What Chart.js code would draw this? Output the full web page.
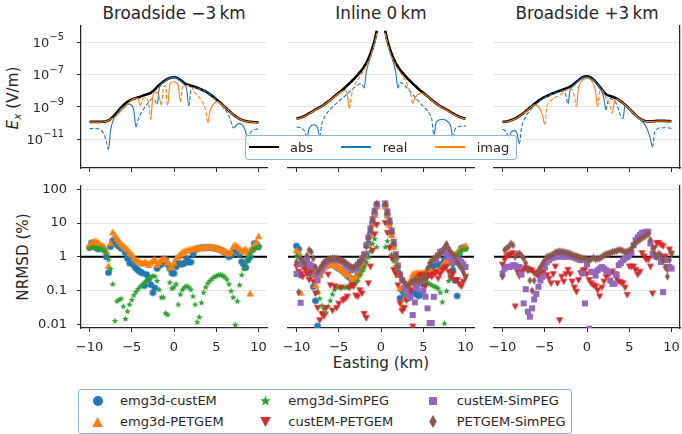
<!DOCTYPE html>
<html>
<head>
<meta charset="utf-8">
<title>EM field and NRMSD</title>
<script src="https://cdn.jsdelivr.net/npm/chart.js@4.4.1/dist/chart.umd.min.js"></script>
<style>
  body { margin: 0; background: #fff; }
  #fig { position: relative; width: 682px; height: 434px; overflow: hidden; font-family: "DejaVu Sans", sans-serif; color: #262626; }
  #fig canvas { position: absolute; }
  .txt { position: absolute; white-space: nowrap; }
  .title { font-size: 16.8px; line-height: 16.8px; transform: translateX(-50%); }
  .axlab { font-size: 15.2px; line-height: 15.2px; }
  .ylab { transform: translate(-50%, -50%) rotate(-90deg); }
  .ylab sub { font-size: 0.7em; vertical-align: baseline; position: relative; top: 0.25em; }
  .legend { position: absolute; z-index: 2; border: 1px solid #8ab6da; border-radius: 3px; background: rgba(255,255,255,0.8); box-sizing: border-box; }
  .legend .lab { position: absolute; font-size: 13px; line-height: 13px; white-space: nowrap; }
  .legend .swatch { position: absolute; }
</style>
</head>
<body>
<div id="fig">
  <div class="txt axlab ylab" style="left:14.4px;top:97.5px"><i>E<sub>x</sub></i> (V/m)</div>
  <div class="txt axlab ylab" style="left:24.4px;top:256.5px">NRMSD (%)</div>
  <div class="txt axlab" style="left:381px;top:356px;transform:translateX(-50%)">Easting (km)</div>
</div>
<script>
// ---- data ---------------------------------------------------------------
const eastingKm = [
  -10, -9.75, -9.5, -9.25, -9, -8.75, -8.5, -8.25,
  -8, -7.75, -7.5, -7.25, -7, -6.75, -6.5, -6.25,
  -6, -5.75, -5.5, -5.25, -5, -4.75, -4.5, -4.25,
  -4, -3.75, -3.5, -3.25, -3, -2.75, -2.5, -2.25,
  -2, -1.75, -1.5, -1.25, -1, -0.75, -0.5, -0.25,
  0, 0.25, 0.5, 0.75, 1, 1.25, 1.5, 1.75,
  2, 2.25, 2.5, 2.75, 3, 3.25, 3.5, 3.75,
  4, 4.25, 4.5, 4.75, 5, 5.25, 5.5, 5.75,
  6, 6.25, 6.5, 6.75, 7, 7.25, 7.5, 7.75,
  8, 8.25, 8.5, 8.75, 9, 9.25, 9.5, 9.75,
  10
];
const eastingTicks = [-10, -5, 0, 5, 10];
const eastingTickLabels = ['\u221210', '\u22125', '0', '5', '10'];
const fieldTicks = [1e-11, 1e-9, 1e-7, 1e-5];
const fieldTickExponents = ['\u221211', '\u22129', '\u22127', '\u22125'];
const nrmsdTicks = [0.01, 0.1, 1, 10, 100];
const nrmsdTickLabels = ['0.01', '0.1', '1', '10', '100'];
const nrmsdReference = 1;

const panelTitles = ['Broadside \u22123\u2009km', 'Inline 0\u2009km', 'Broadside +3\u2009km'];
const fieldNames = ['abs', 'real', 'imag'];
const seriesNames = ['emg3d-custEM', 'emg3d-PETGEM', 'emg3d-SimPEG', 'custEM-PETGEM', 'custEM-SimPEG', 'PETGEM-SimPEG'];

// E_x (V/m), broadside -3 km
const bsMinusAbs = [
  1.15e-10, 1.15e-10, 1.15e-10, 1.15e-10, 1.15e-10, 1.15e-10, 1.17e-10, 1.2e-10,
  1.26e-10, 1.41e-10, 1.78e-10, 2.24e-10, 3.16e-10, 4.47e-10, 6.31e-10, 8.91e-10,
  1.2e-9, 1.58e-9, 2.0e-9, 2.4e-9, 2.75e-9, 3.16e-9, 3.47e-9, 3.8e-9,
  4.17e-9, 4.68e-9, 5.25e-9, 5.75e-9, 6.31e-9, 7.24e-9, 8.91e-9, 1.2e-8,
  1.66e-8, 2.24e-8, 2.82e-8, 3.55e-8, 4.37e-8, 5.25e-8, 6.03e-8, 6.46e-8,
  6.61e-8, 6.31e-8, 5.5e-8, 4.47e-8, 3.55e-8, 2.82e-8, 2.4e-8, 2.19e-8,
  2.0e-8, 1.82e-8, 1.66e-8, 1.48e-8, 1.32e-8, 1.15e-8, 1.0e-8, 8.51e-9,
  7.08e-9, 5.75e-9, 4.68e-9, 3.72e-9, 2.88e-9, 2.24e-9, 1.7e-9, 1.29e-9,
  9.77e-10, 7.41e-10, 5.62e-10, 4.27e-10, 3.31e-10, 2.63e-10, 2.14e-10, 1.78e-10,
  1.55e-10, 1.38e-10, 1.29e-10, 1.2e-10, 1.15e-10, 1.12e-10, 1.1e-10, 1.07e-10,
  1.05e-10
];
const bsMinusReal = [
  -4.3e-11, -4.4e-11, -4.5e-11, -4.5e-11, -4.3e-11, -3.8e-11, -3.0e-11, -1.8e-11,
  -7e-12, -2.2e-12, 3.5e-11, 1.2e-10, 2.4e-10, 3.6e-10, 5.2e-10, 7.2e-10,
  9.5e-10, 1.2e-9, 1.4e-9, 1.45e-9, 1.2e-9, 6e-10, 5.6e-11, -1.6e-10,
  -3.2e-10, -5.5e-10, -8.5e-10, -1.3e-9, -1.9e-9, -2.7e-9, -3.2e-9, -2.5e-9,
  -1.4e-9, 1.3e-8, 2.4e-8, 3.2e-8, 4.1e-8, 5.0e-8, 5.8e-8, 6.3e-8,
  6.5e-8, 6.1e-8, 5.2e-8, 4.1e-8, 3.1e-8, 2.2e-8, 1.2e-8, 1.1e-9,
  -1.1e-8, -1.5e-8, -1.55e-8, -1.42e-8, -1.28e-8, -1.12e-8, -9.8e-9, -8.4e-9,
  -7.0e-9, -5.6e-9, -4.5e-9, -3.5e-9, -2.6e-9, -1.95e-9, -1.4e-9, -1.0e-9,
  -7e-10, -4.6e-10, -2.7e-10, -1.2e-10, -4.8e-11, 6e-11, 8.5e-11, 9e-11,
  8e-11, 5.5e-11, 2.5e-11, 4e-12, -2.2e-11, -3.2e-11, -3.8e-11, -4.1e-11,
  -4.3e-11
];
const bsMinusImag = [
  1.12e-10, 1.12e-10, 1.12e-10, 1.12e-10, 1.12e-10, 1.12e-10, 1.14e-10, 1.18e-10,
  1.24e-10, 1.41e-10, 1.74e-10, 1.9e-10, 2.2e-10, 2.9e-10, 4.0e-10, 5.6e-10,
  7.6e-10, 1.0e-9, 1.5e-9, 2.0e-9, 2.45e-9, 3.1e-9, 3.45e-9, 3.2e-9,
  1.2e-9, -2.8e-9, -3.6e-9, -3.2e-9, -1.8e-9, -1.6e-10, 4.5e-9, 7.5e-9,
  8e-9, 4e-9, 1.3e-9, -1.5e-8, -2e-8, -1.2e-9, 2.2e-8, 3.3e-8,
  3.5e-8, 3.2e-8, 2.2e-8, 2e-9, -1.6e-8, -1.8e-8, -2.0e-8, -2.1e-8,
  -1.7e-8, -1.2e-8, -7.5e-9, -5.2e-9, -3.6e-9, -2.4e-9, -1.4e-9, -6e-10,
  -1e-10, 5e-10, 1.1e-9, 1.6e-9, 2.0e-9, 1.95e-9, 1.6e-9, 1.25e-9,
  9.5e-10, 7.3e-10, 5.5e-10, 4.1e-10, 3.3e-10, 2.55e-10, 2.1e-10, 1.75e-10,
  1.52e-10, 1.35e-10, 1.25e-10, 1.2e-10, 1.12e-10, 1.08e-10, 1.05e-10, 1.02e-10,
  1.0e-10
];

// E_x (V/m), inline 0 km (no values at the source)
const inlineAbs = [
  1.86e-10, 1.95e-10, 2.14e-10, 2.4e-10, 2.75e-10, 3.24e-10, 3.8e-10, 4.57e-10,
  5.5e-10, 6.61e-10, 7.76e-10, 9.12e-10, 1.07e-9, 1.32e-9, 1.66e-9, 2.09e-9,
  2.63e-9, 3.39e-9, 4.37e-9, 5.62e-9, 7.24e-9, 9.12e-9, 1.17e-8, 1.55e-8,
  2.04e-8, 2.69e-8, 3.63e-8, 4.9e-8, 6.76e-8, 9.33e-8, 1.32e-7, 1.95e-7,
  3.02e-7, 5.01e-7, 9.33e-7, 1.91e-6, 4.47e-6, 1.26e-5, 5.01e-5, null,
  null, null, 5.01e-5, 1.26e-5, 4.47e-6, 1.91e-6, 9.33e-7, 5.01e-7,
  3.02e-7, 1.95e-7, 1.32e-7, 9.33e-8, 6.76e-8, 4.9e-8, 3.63e-8, 2.69e-8,
  2.04e-8, 1.55e-8, 1.17e-8, 9.12e-9, 7.24e-9, 5.62e-9, 4.37e-9, 3.39e-9,
  2.63e-9, 2.09e-9, 1.66e-9, 1.32e-9, 1.07e-9, 9.12e-10, 7.76e-10, 6.61e-10,
  5.5e-10, 4.57e-10, 3.8e-10, 3.24e-10, 2.75e-10, 2.4e-10, 2.14e-10, 1.95e-10,
  1.86e-10
];
const inlineReal = [
  -5.6e-11, -5.3e-11, -5.0e-11, -4.2e-11, -2.8e-11, -1.3e-11, 4.5e-11, 6.6e-11,
  7.6e-11, 7.1e-11, 5.0e-11, 1.4e-11, -8.9e-11, -1.9e-10, -3.3e-10, -5.0e-10,
  -7.1e-10, -9.5e-10, -1.26e-9, -1.66e-9, -2.2e-9, -2.8e-9, -3.6e-9, -4.7e-9,
  -6.0e-9, -7.9e-9, -1.07e-8, -1.41e-8, -1.78e-8, -2.2e-8, -2.6e-8, -2.5e-8,
  1.4e-8, 1.26e-7, 4.5e-7, 1.12e-6, 3.0e-6, 8.7e-6, 3.55e-5, null,
  null, null, 3.55e-5, 8.7e-6, 3.0e-6, 1.17e-6, 4.5e-7, 1.26e-7,
  1.4e-8, -3.2e-8, -2.8e-8, -2.2e-8, -1.6e-8, -1.12e-8, -7.9e-9, -5.6e-9,
  -4.0e-9, -2.8e-9, -2.0e-9, -1.4e-9, -1.05e-9, -7.9e-10, -5.6e-10, -3.5e-10,
  -1.8e-10, -1.6e-11, 1.0e-10, 1.4e-10, 1.6e-10, 1.66e-10, 1.6e-10, 1.35e-10,
  1.05e-10, 6.3e-11, 1.26e-11, -4.0e-11, -5.2e-11, -6.0e-11, -6.3e-11, -6.3e-11,
  -6.3e-11
];
const inlineImag = [
  1.77e-10, 1.85e-10, 2.03e-10, 2.28e-10, 2.6e-10, 3.08e-10, 3.6e-10, 4.34e-10,
  5.2e-10, 6.3e-10, 7.4e-10, 8.7e-10, 1.02e-9, 1.25e-9, 1.58e-9, 1.99e-9,
  2.5e-9, 3.2e-9, 4.1e-9, 5.2e-9, 6.6e-9, 8.0e-9, 9.5e-9, 1.05e-8,
  6.3e-9, 7.9e-10, -5.0e-9, -1.41e-8, -2.8e-8, -4.5e-8, -7.1e-8, -1.12e-7,
  -2.0e-7, -3.4e-7, -6.3e-7, -1.26e-6, -3.0e-6, -8.9e-6, -3.55e-5, null,
  null, null, -3.55e-5, -8.9e-6, -3.0e-6, -1.26e-6, -6.3e-7, -3.5e-7,
  -2.1e-7, -1.35e-7, -8.9e-8, -5.6e-8, -3.2e-8, -1.58e-8, -6.3e-9, -1.6e-9,
  3.5e-9, 5.0e-9, 6.3e-9, 7.1e-9, 6.8e-9, 5.5e-9, 4.3e-9, 3.3e-9,
  2.55e-9, 2.0e-9, 1.6e-9, 1.27e-9, 1.03e-9, 8.7e-10, 7.4e-10, 6.3e-10,
  5.2e-10, 4.4e-10, 3.6e-10, 3.1e-10, 2.6e-10, 2.3e-10, 2.05e-10, 1.86e-10,
  1.78e-10
];

// E_x (V/m), broadside +3 km
const bsPlusAbs = [
  1.15e-10, 1.17e-10, 1.23e-10, 1.32e-10, 1.45e-10, 1.62e-10, 1.86e-10, 2.19e-10,
  2.63e-10, 3.24e-10, 4.07e-10, 5.25e-10, 6.76e-10, 8.71e-10, 1.12e-9, 1.45e-9,
  1.82e-9, 2.29e-9, 2.82e-9, 3.39e-9, 3.98e-9, 4.57e-9, 5.25e-9, 6.03e-9,
  6.76e-9, 7.59e-9, 8.51e-9, 9.55e-9, 1.07e-8, 1.2e-8, 1.35e-8, 1.51e-8,
  1.74e-8, 2.09e-8, 2.63e-8, 3.39e-8, 4.37e-8, 5.5e-8, 6.61e-8, 7.41e-8,
  7.59e-8, 7.08e-8, 6.03e-8, 4.79e-8, 3.55e-8, 2.51e-8, 1.74e-8, 1.17e-8,
  7.94e-9, 5.89e-9, 5.01e-9, 4.57e-9, 4.17e-9, 3.72e-9, 3.16e-9, 2.63e-9,
  2.14e-9, 1.7e-9, 1.32e-9, 1.0e-9, 7.41e-10, 5.5e-10, 4.07e-10, 3.02e-10,
  2.34e-10, 1.86e-10, 1.55e-10, 1.35e-10, 1.26e-10, 1.23e-10, 1.23e-10, 1.26e-10,
  1.29e-10, 1.32e-10, 1.32e-10, 1.32e-10, 1.32e-10, 1.32e-10, 1.29e-10, 1.29e-10,
  1.26e-10
];
const bsPlusReal = [
  -4.0e-11, -3.5e-11, -2.5e-11, -1.0e-11, 2.5e-11, 3.2e-11, 3.2e-11, 2.0e-11,
  5.0e-12, -5.0e-11, -1.26e-10, -2.5e-10, -4.0e-10, -5.6e-10, -7.9e-10, -1.07e-9,
  -1.41e-9, -1.86e-9, -2.4e-9, -2.95e-9, -3.55e-9, -4.2e-9, -4.9e-9, -5.6e-9,
  -6.3e-9, -7.1e-9, -7.9e-9, -8.7e-9, -9.5e-9, -8.9e-9, -5.0e-9, -1.45e-9,
  1.12e-8, 1.66e-8, 2.24e-8, 3.0e-8, 4.0e-8, 5.0e-8, 6.0e-8, 6.8e-8,
  6.8e-8, 6.3e-8, 5.5e-8, 4.5e-8, 3.3e-8, 2.3e-8, 1.58e-8, 8.9e-9,
  3.2e-9, 6.3e-10, -2.5e-9, -3.2e-9, -2.8e-9, -2.2e-9, -1.4e-9, -6.3e-10,
  -2.5e-10, -1.8e-10, 1.12e-9, 8.9e-10, 6.8e-10, 5.1e-10, 3.9e-10, 2.9e-10,
  2.2e-10, 1.66e-10, 1.26e-10, 8.9e-11, 5.6e-11, 2.8e-11, 1.0e-11, 3.2e-12,
  -2.5e-11, -4.0e-11, -4.8e-11, -5.0e-11, -5.0e-11, -5.0e-11, -5.0e-11, -4.8e-11,
  -4.5e-11
];
const bsPlusImag = [
  1.1e-10, 1.12e-10, 1.17e-10, 1.26e-10, 1.38e-10, 1.55e-10, 1.78e-10, 2.1e-10,
  2.5e-10, 3.1e-10, 3.9e-10, 4.9e-10, 6.2e-10, 7.8e-10, 1.07e-9, 1.26e-9,
  1.26e-9, 1.0e-9, 6.3e-10, 2.8e-10, 7.9e-11, -1.0e-9, -1.78e-9, -2.5e-9,
  -3.2e-9, -3.8e-9, -4.5e-9, -5.0e-9, -6.3e-9, -7.9e-9, -1.0e-8, -1.2e-8,
  -1.35e-8, -1.0e-8, -4.5e-9, -1.0e-9, 1.58e-8, 3.2e-8, 4.5e-8, 5.4e-8,
  5.6e-8, 5.2e-8, 4.2e-8, 2.5e-8, 1.0e-8, 1.0e-9, -8e-9, -1.05e-8,
  -7.0e-9, -3.5e-9, -2.0e-9, -1.1e-9, -4e-10, 2.5e-9, 3.0e-9, 2.6e-9,
  2.1e-9, 1.66e-9, 1.29e-9, 9.8e-10, 7.3e-10, 5.4e-10, 4.0e-10, 2.95e-10,
  2.3e-10, 1.83e-10, 1.52e-10, 1.32e-10, 1.23e-10, 1.2e-10, 1.2e-10, 1.23e-10,
  1.26e-10, 1.29e-10, 1.29e-10, 1.29e-10, 1.29e-10, 1.29e-10, 1.26e-10, 1.26e-10,
  1.23e-10
];

// NRMSD (%), broadside -3 km
const bsMinusEmg3dCustem = [
  1.9, 2.6, 2.2, 1.9, 1.7, 1.8, 1.9, 1.6,
  1.0, 0.34, 2.0, 3.0, 2.6, 2.3, 2.0, 1.8,
  1.7, 1.3, 0.9, 0.65, 0.75, 0.55, 0.45, 0.4,
  0.36, 0.33, 0.14, 0.3, 0.22, 0.15, 0.086, 0.12,
  0.45, 0.55, 0.6, 0.75, 0.85, 0.6, 0.45, 0.33,
  0.32, 0.5, 0.65, 0.6, 0.62, 0.65, 0.9, 0.7,
  0.7, 1.2, 1.6, 1.75, 1.8, 1.85, 1.85, 1.85,
  1.9, 1.9, 1.85, 1.8, 1.75, 1.7, 1.6, 1.5,
  1.35, 1.2, 1.0, 1.1, 1.3, 1.5, 1.6, 1.2,
  0.72, 0.6, 0.48, 0.8, 1.0, 1.6, 2.5, 2.4,
  2.0
];
const bsMinusEmg3dPetgem = [
  2.3, 2.6, 2.9, 3.0, 2.7, 2.4, 2.2, 2.0,
  1.5, 0.55, 2.6, 5.5, 4.5, 3.6, 3.0, 2.5,
  2.2, 1.9, 1.7, 1.4, 1.2, 0.95, 0.85, 0.75,
  0.7, 0.65, 0.72, 0.7, 0.6, 0.7, 0.78, 0.85,
  0.6, 0.72, 0.85, 0.92, 0.85, 0.7, 0.5, 0.55,
  0.7, 0.95, 1.05, 1.25, 1.4, 1.5, 1.6, 1.65,
  1.7, 1.75, 1.8, 1.85, 1.9, 1.95, 1.95, 2.0,
  2.0, 2.0, 2.0, 1.95, 1.9, 1.8, 1.7, 1.6,
  1.5, 1.4, 1.3, 1.5, 2.1, 2.3, 2.1, 1.8,
  1.5, 1.65, 1.7, 1.4, 0.085, 1.8, 2.4, 2.8,
  4.2
];
const bsMinusEmg3dSimpeg = [
  1.8, 1.9, 2.0, 1.9, 1.8, 1.85, 1.8, 1.6,
  1.3, 0.85, 0.45, 0.16, 0.013, 0.05, 0.055, 0.06,
  0.035, 0.015, 0.025, 0.04, 0.055, 0.075, 0.095, 0.115,
  0.135, 0.155, 0.18, 0.2, 0.23, 0.26, 0.28, 0.27,
  0.2, 0.11, 0.065, 0.065, 0.022, 0.02, 0.18, 0.12,
  0.13, 0.16, 0.04, 0.08, 0.11, 0.13, 0.14, 0.13,
  0.11, 0.07, 0.04, 0.012, 0.017, 0.045, 0.09, 0.13,
  0.17, 0.2, 0.23, 0.26, 0.28, 0.3, 0.3, 0.29,
  0.26, 0.22, 0.16, 0.1, 0.065, 0.01, 0.05, 0.15,
  0.3, 0.45, 0.7, 1.0, 1.3, 1.6, 1.8, 1.9,
  1.9
];

// NRMSD (%), inline 0 km
const inlineEmg3dCustem = [
  2.1, 1.7, 0.29, 0.6, 0.5, 0.45, 0.4, 0.3,
  0.13, 0.05, 0.009, 0.3, 0.4, 0.5, 0.55, 0.6,
  0.62, 0.6, 0.55, 0.5, 0.45, 0.42, 0.38, 0.33,
  0.28, 0.25, 0.22, 0.2, 0.22, 0.28, 0.38, 0.5,
  0.7, 1.2, 2.5, 5, 10, 19, 33, null,
  null, null, 33, 18, 10, 5, 2.2, 0.9,
  0.35, 0.06, 0.1, 0.08, 0.07, 0.06, 0.08, 0.09,
  0.085, 0.075, 0.07, 0.08, 0.15, 0.25, 0.35, 0.45,
  0.5, 0.55, 0.6, 0.6, 0.6, 0.6, 0.8, 1.0,
  0.9, 0.7, 0.4, 0.2, 0.07, 1.2, 1.8, 1.9,
  1.8
];
const inlineEmg3dPetgem = [
  1.6, 1.4, 0.09, 0.7, 0.6, 0.55, 0.5, 0.4,
  0.3, 0.15, 0.1, 0.3, 0.4, 0.5, 0.55, 0.6,
  0.62, 0.6, 0.58, 0.55, 0.5, 0.45, 0.4, 0.35,
  0.32, 0.3, 0.25, 0.22, 0.25, 0.3, 0.35, 0.45,
  0.65, 1.1, 2.3, 4.5, 9.5, 18, 32, null,
  null, null, 32, 17, 9, 4.5, 2.0, 0.8,
  0.3, 0.12, 0.033, 0.06, 0.1, 0.15, 0.22, 0.32,
  0.33, 0.34, 0.34, 0.34, 0.35, 0.36, 0.38, 0.4,
  0.38, 0.36, 0.37, 0.4, 0.45, 0.55, 0.7, 0.8,
  0.85, 0.9, 1.0, 1.2, 1.4, 1.6, 1.8, 2.0,
  2.2
];
const inlineEmg3dSimpeg = [
  1.1, 1.0, 0.85, 0.7, 0.65, 0.55, 0.5, 0.45,
  0.4, 0.2, 0.09, 0.06, 0.037, 0.03, 0.023, 0.035,
  0.052, 0.08, 0.11, 0.13, 0.13, 0.13, 0.13, 0.13,
  0.13, 0.13, 0.14, 0.15, 0.17, 0.2, 0.3, 0.4,
  0.5, 0.7, 1.0, 1.5, 2.5, 3.5, 2.0, null,
  null, null, 2.0, 3.0, 2.0, 1.2, 0.8, 0.55,
  0.4, 0.3, 0.22, 0.18, 0.14, 0.15, 0.17, 0.19,
  0.2, 0.21, 0.22, 0.22, 0.21, 0.2, 0.18, 0.16,
  0.15, 0.14, 0.13, 0.12, 0.09, 0.047, 0.011, 0.1,
  0.2, 0.3, 0.55, 1.0, 1.2, 1.4, 1.6, 1.7,
  1.8
];
const inlineCustemPetgem = [
  0.5, 0.35, 0.3, 0.25, 0.4, 0.3, 0.2, 0.35,
  0.18, 0.08, 0.03, 0.013, 0.02, 0.017, 0.03, 0.29,
  0.14, 0.025, 0.13, 0.03, 0.04, 0.12, 0.05, 0.055,
  0.065, 0.12, 0.14, 0.13, 0.07, 0.065, 0.1, 0.08,
  0.02, 0.015, 0.16, 0.5, 1.5, 4.5, 8.6, null,
  null, null, 9.7, 5, 1.8, 0.9, 0.4, 0.3,
  0.14, 0.04, 0.024, 0.03, 0.05, 0.07, 0.1, 0.0085,
  0.13, 0.18, 0.25, 0.29, 0.22, 0.13, 0.25, 0.28,
  0.25, 0.3, 0.35, 0.22, 0.3, 0.4, 0.45, 0.5,
  0.35, 0.23, 0.3, 0.2, 0.2, 0.15, 0.13, 0.18,
  0.25
];
const inlineCustemSimpeg = [
  0.31, 0.6, 0.044, 0.65, 0.75, 0.85, 0.6, 0.55,
  0.5, 0.3, 0.2, 0.35, 0.45, 0.6, 0.7, 0.78,
  0.82, 0.85, 0.85, 0.82, 0.8, 0.75, 0.7, 0.62,
  0.55, 0.48, 0.4, 0.42, 0.5, 0.6, 0.72, 0.9,
  1.2, 2.2, 3.8, 7, 13, 23, 36, null,
  null, null, 38, 22, 12, 6, 2.8, 1.2,
  0.55, 0.3, 0.2, 0.12, 0.1, 0.066, 0.066, 0.019,
  0.045, 0.12, 0.18, 0.2, 0.1, 0.066, 0.03, 0.011,
  0.011, 0.066, 0.8, 1.1, 1.4, 1.5, 1.6, 1.3,
  1.0, 0.9, 0.7, 0.7, 0.7, 0.8, 0.7, 0.6,
  0.5
];
const inlinePetgemSimpeg = [
  0.7, 0.09, 0.9, 0.75, 0.6, 1.1, 1.6, 1.4,
  0.9, 0.5, 0.35, 0.45, 0.55, 0.68, 0.75, 0.82,
  0.86, 0.9, 0.9, 0.88, 0.85, 0.8, 0.75, 0.68,
  0.6, 0.55, 0.5, 0.48, 0.52, 0.6, 0.7, 0.85,
  1.1, 2.0, 3.5, 6.5, 12, 22, 38, null,
  null, null, 36, 20, 11, 5.5, 2.5, 1.1,
  0.5, 0.3, 0.22, 0.18, 0.15, 0.14, 0.17, 0.2,
  0.22, 0.2, 0.19, 0.2, 0.24, 0.3, 0.45, 0.65,
  0.8, 0.9, 1.0, 1.1, 1.2, 1.4, 1.9, 2.4,
  1.8, 1.4, 1.2, 1.0, 0.7, 0.55, 0.45, 0.35,
  0.25
];

// NRMSD (%), broadside +3 km
const bsPlusCustemPetgem = [
  0.57, 0.8, 1.0, 1.1, 1.15, 1.25, 0.033, 0.36,
  0.26, 0.36, 0.4, 0.45, 0.42, 0.4, 0.38, 0.32,
  0.3, 0.26, 0.3, 0.36, 0.4, 0.28, 0.22, 0.16,
  0.3, 0.5, 0.16, 0.013, 0.25, 0.18, 0.3, 0.4,
  0.3, 0.18, 0.12, 0.09, 0.2, 0.32, 0.38, 0.4,
  0.3, 0.2, 0.16, 0.14, 0.13, 0.1, 0.066, 0.12,
  0.18, 0.25, 0.29, 0.32, 0.36, 0.3, 0.22, 0.18,
  0.17, 0.16, 0.12, 0.073, 0.5, 0.5, 0.5, 0.4,
  0.29, 0.35, 1.25, 1.0, 0.8, 0.8, 0.5, 0.08,
  1.8, 2.5, 2.5, 2.2, 2.0, 1.0, 0.4, 1.6,
  1.2
];
const bsPlusCustemSimpeg = [
  0.32, 0.45, 0.5, 0.5, 0.52, 0.57, 0.55, 0.5,
  0.5, 0.3, 0.042, 0.11, 0.024, 0.017, 0.03, 0.055,
  0.08, 0.13, 0.2, 0.26, 0.5, 0.7, 0.8, 0.9,
  0.95, 1.0, 1.0, 1.05, 1.05, 1.0, 1.0, 1.1,
  1.05, 1.0, 0.95, 0.9, 0.85, 0.8, 0.32, 0.042,
  0.6, 0.0075, 0.36, 0.36, 0.28, 0.4, 0.45, 0.5,
  0.45, 0.4, 0.36, 0.2, 0.16, 0.16, 0.3, 0.57,
  0.65, 0.8, 0.9, 1.0, 1.1, 1.3, 2.2, 3.1,
  3.8, 4.5, 5.1, 5.3, 5.5, 5.5, 2.5, 1.25,
  1.1, 1.0, 1.0, 0.7, 0.09, 0.8, 0.5, 0.5,
  0.45
];
const bsPlusPetgemSimpeg = [
  0.26, 1.6, 1.8, 2.0, 2.5, 2.2, 1.0, 1.2,
  1.25, 1.1, 0.9, 0.65, 0.4, 0.2, 0.1, 0.2,
  0.32, 0.4, 0.5, 0.63, 0.8, 1.0, 1.05, 1.1,
  1.2, 1.35, 1.4, 1.45, 1.45, 1.4, 1.35, 1.3,
  1.25, 1.15, 1.1, 1.05, 1.0, 0.95, 0.9, 0.88,
  0.85, 0.8, 0.85, 0.95, 0.85, 0.88, 0.9, 1.0,
  1.1, 1.2, 1.25, 1.3, 1.4, 1.45, 1.5, 1.6,
  1.6, 1.5, 1.4, 1.45, 1.55, 1.7, 2.2, 2.6,
  2.9, 3.2, 3.6, 3.9, 4.3, 4.7, 3.2, 1.8,
  1.2, 1.0, 1.25, 1.1, 0.8, 0.5, 0.26, 0.8,
  1.25
];

// ---- styling / layout ---------------------------------------------------
const INK = '#262626';
const GRID = '#e5e5e5';
const FIELD_COLORS = ['#000000', '#1f77b4', '#ff7f0e'];
const SERIES_STYLE = [
  { color: '#1f77b4', shape: 'circle', w: 6.6, h: 6.6, lw: 10, lh: 10 },
  { color: '#ff7f0e', shape: 'triangleUp', w: 7.4, h: 7, lw: 10.5, lh: 10 },
  { color: '#2ca02c', shape: 'star', w: 7, h: 7, lw: 11, lh: 11 },
  { color: '#d62728', shape: 'triangleDown', w: 7, h: 6.6, lw: 10.5, lh: 10 },
  { color: '#9467bd', shape: 'square', w: 6, h: 6, lw: 8, lh: 8 },
  { color: '#8c564b', shape: 'thinDiamond', w: 5, h: 8, lw: 7.5, lh: 13 }
];

const X_MIN = -11, X_MAX = 11;
const FIELD_MIN = 1.62e-13, FIELD_MAX = 9.77e-5;
const NRMSD_MIN = 0.00785, NRMSD_MAX = 124.5;

const PLOT_LEFT = [81, 288, 494];
const ROW_TOP = [26, 186];
const PLOT_W = 186, PLOT_H = 142, PAD_TOP = 8;
const Y_AXIS_W = [70, 12, 12];
const X_AXIS_H = [12, 40];

const fig = document.getElementById('fig');

[eastingKm, bsMinusAbs, bsMinusReal, bsMinusImag, inlineAbs, inlineReal, inlineImag,
 bsPlusAbs, bsPlusReal, bsPlusImag, bsMinusEmg3dCustem, bsMinusEmg3dPetgem, bsMinusEmg3dSimpeg,
 inlineEmg3dCustem, inlineEmg3dPetgem, inlineEmg3dSimpeg, inlineCustemPetgem, inlineCustemSimpeg,
 inlinePetgemSimpeg, bsPlusCustemPetgem, bsPlusCustemSimpeg, bsPlusPetgemSimpeg
].forEach((a, i) => { if (a.length !== 81) console.error('array ' + i + ' has ' + a.length); });

Chart.defaults.font.family = '"DejaVu Sans", sans-serif';
Chart.defaults.font.size = 13;
Chart.defaults.color = INK;

function markerImage(shape, color, w, h) {
  const c = document.createElement('canvas');
  c.width = Math.ceil(w) + 2;
  c.height = Math.ceil(h) + 2;
  const g = c.getContext('2d');
  const cx = c.width / 2, cy = c.height / 2, rx = w / 2, ry = h / 2;
  g.fillStyle = color;
  g.beginPath();
  if (shape === 'circle') {
    g.ellipse(cx, cy, rx, ry, 0, 0, Math.PI * 2);
  } else if (shape === 'triangleUp') {
    g.moveTo(cx, cy - ry); g.lineTo(cx + rx, cy + ry); g.lineTo(cx - rx, cy + ry);
  } else if (shape === 'triangleDown') {
    g.moveTo(cx, cy + ry); g.lineTo(cx + rx, cy - ry); g.lineTo(cx - rx, cy - ry);
  } else if (shape === 'square') {
    g.rect(cx - rx, cy - ry, w, h);
  } else if (shape === 'thinDiamond') {
    g.moveTo(cx, cy - ry); g.lineTo(cx + rx, cy); g.lineTo(cx, cy + ry); g.lineTo(cx - rx, cy);
  } else if (shape === 'star') {
    for (let k = 0; k < 10; k++) {
      const r = k % 2 ? rx * 0.42 : rx;
      const a = -Math.PI / 2 + k * Math.PI / 5;
      const px = cx + r * Math.cos(a), py = cy + 0.5 + r * Math.sin(a);
      if (k === 0) g.moveTo(px, py); else g.lineTo(px, py);
    }
  }
  g.closePath();
  g.fill();
  return c;
}

const plotMarkers = SERIES_STYLE.map(s => markerImage(s.shape, s.color, s.w, s.h));

function toPoints(values) {
  return eastingKm.map((x, i) => ({ x, y: values[i] === null ? null : Math.abs(values[i]) }));
}

// dashed where the component is negative
function dashWhenNegative(values) {
  return ctx => (values[ctx.p0DataIndex] + values[ctx.p1DataIndex] < 0 ? [4, 2] : undefined);
}

function fieldSets(absV, realV, imagV) {
  return [absV, realV, imagV].map((v, k) => ({
    label: fieldNames[k],
    data: toPoints(v),
    yAxisID: 'y',
    borderColor: FIELD_COLORS[k],
    borderWidth: k === 0 ? 2.6 : 1.1,
    borderJoinStyle: 'round',
    pointRadius: 0,
    cubicInterpolationMode: 'monotone',
    order: 3 - k,
    segment: k === 0 ? {} : { borderDash: dashWhenNegative(v) }
  }));
}

function errorSets(list) {
  const sets = list.map(([k, values]) => ({
    label: seriesNames[k],
    data: toPoints(values),
    yAxisID: 'y',
    showLine: false,
    pointStyle: plotMarkers[k],
    pointRadius: 3.5,
    order: 6 - k
  }));
  sets.push({
    label: 'reference',
    data: [{ x: X_MIN, y: nrmsdReference }, { x: X_MAX, y: nrmsdReference }],
    yAxisID: 'y',
    borderColor: '#000',
    borderWidth: 2,
    pointRadius: 0,
    order: 20
  });
  return sets;
}

// "10^-n" tick labels of the field axis
const powerTickLabels = {
  id: 'powerTickLabels',
  afterDraw(chart) {
    const s = chart.scales.y;
    const ctx = chart.ctx;
    ctx.save();
    ctx.fillStyle = INK;
    ctx.textAlign = 'right';
    ctx.textBaseline = 'alphabetic';
    s.ticks.forEach((t, i) => {
      const y = s.getPixelForValue(t.value);
      const right = s.right - 17;
      const exp = fieldTickExponents[i];
      ctx.font = '9.8px "DejaVu Sans"';
      ctx.fillText(exp, right, y - 1.6);
      const ew = ctx.measureText(exp).width;
      ctx.font = '13px "DejaVu Sans"';
      ctx.fillText('10', right - ew - 0.3, y + 5);
    });
    ctx.restore();
  }
};

function zeroPadding(s) {
  s.paddingLeft = 0; s.paddingRight = 0; s.paddingTop = 0; s.paddingBottom = 0;
}

function makePanel(col, row, datasets, plugins) {
  const top = row === 0;
  const rightW = col === 2 ? 12 : 8;
  const canvas = document.createElement('canvas');
  canvas.width = Y_AXIS_W[col] + PLOT_W + rightW;
  canvas.height = PAD_TOP + PLOT_H + X_AXIS_H[row];
  canvas.style.left = (PLOT_LEFT[col] - Y_AXIS_W[col]) + 'px';
  canvas.style.top = (ROW_TOP[row] - PAD_TOP) + 'px';
  fig.appendChild(canvas);

  const yTicks = top ? fieldTicks : nrmsdTicks;
  const scales = {
    x: {
      type: 'linear', min: X_MIN, max: X_MAX,
      afterBuildTicks: s => { s.ticks = eastingTicks.map(value => ({ value })); },
      afterFit: s => { s.height = X_AXIS_H[row]; zeroPadding(s); },
      grid: { drawOnChartArea: false, drawTicks: true, tickLength: 4, tickColor: INK, tickWidth: 1 },
      border: { display: true, color: INK, width: 1.25 },
      ticks: { display: !top, padding: 8, color: INK, maxRotation: 0, autoSkip: false,
               font: { size: 13 }, callback: (v, i) => eastingTickLabels[i] }
    },
    y: {
      type: 'logarithmic',
      min: top ? FIELD_MIN : NRMSD_MIN,
      max: top ? FIELD_MAX : NRMSD_MAX,
      afterBuildTicks: s => { s.ticks = yTicks.map(value => ({ value })); },
      afterFit: s => { s.width = Y_AXIS_W[col]; zeroPadding(s); },
      grid: { color: GRID, lineWidth: 1, drawTicks: col === 0, tickLength: 4, tickColor: INK, tickWidth: 1 },
      border: { display: col === 0, color: INK, width: 1.25 },
      ticks: { display: col === 0 && !top, padding: 10, color: INK, autoSkip: false,
               font: { size: 13 }, callback: (v, i) => nrmsdTickLabels[i] }
    }
  };
  if (col === 2) {
    scales.yr = {
      type: 'linear', position: 'right', display: true,
      afterFit: s => { s.width = 12; zeroPadding(s); },
      grid: { display: false, drawTicks: false },
      border: { display: true, color: INK, width: 1.25 },
      ticks: { display: false }
    };
  }
  return new Chart(canvas, {
    type: 'line',
    data: { datasets },
    options: {
      responsive: false,
      animation: false,
      devicePixelRatio: 1,
      events: [],
      layout: { padding: { top: PAD_TOP, right: col === 2 ? 0 : 8, left: 0, bottom: 0 } },
      plugins: { legend: { display: false }, tooltip: { enabled: false } },
      scales
    },
    plugins: plugins || []
  });
}

// titles
panelTitles.forEach((t, col) => {
  const d = document.createElement('div');
  d.className = 'txt title';
  d.style.left = (PLOT_LEFT[col] + PLOT_W / 2) + 'px';
  d.style.top = '4.8px';
  d.textContent = t;
  fig.appendChild(d);
});

// field panels
makePanel(0, 0, fieldSets(bsMinusAbs, bsMinusReal, bsMinusImag), [powerTickLabels]);
makePanel(1, 0, fieldSets(inlineAbs, inlineReal, inlineImag));
makePanel(2, 0, fieldSets(bsPlusAbs, bsPlusReal, bsPlusImag));

// misfit panels
makePanel(0, 1, errorSets([[0, bsMinusEmg3dCustem], [1, bsMinusEmg3dPetgem], [2, bsMinusEmg3dSimpeg]]));
makePanel(1, 1, errorSets([[0, inlineEmg3dCustem], [1, inlineEmg3dPetgem], [2, inlineEmg3dSimpeg],
                           [3, inlineCustemPetgem], [4, inlineCustemSimpeg], [5, inlinePetgemSimpeg]]));
makePanel(2, 1, errorSets([[3, bsPlusCustemPetgem], [4, bsPlusCustemSimpeg], [5, bsPlusPetgemSimpeg]]));

// ---- legends --------------------------------------------------------------
function addLegend(left, top, width, height) {
  const d = document.createElement('div');
  d.className = 'legend';
  Object.assign(d.style, { left: left + 'px', top: top + 'px', width: width + 'px', height: height + 'px' });
  fig.appendChild(d);
  return d;
}
function addLabel(box, text, left, top) {
  const s = document.createElement('span');
  s.className = 'lab';
  s.style.left = left + 'px';
  s.style.top = top + 'px';
  s.textContent = text;
  box.appendChild(s);
}

const fieldLegend = addLegend(245, 135, 272, 25);
const fieldSwatchX = [3, 95, 189];
const fieldLabelX = [44, 136.7, 230.7];
fieldNames.forEach((name, k) => {
  const sw = document.createElement('div');
  sw.className = 'swatch';
  const lw = k === 0 ? 2.6 : 1.1;
  Object.assign(sw.style, { left: fieldSwatchX[k] + 'px', top: (11 - lw / 2) + 'px', width: '30px',
                            height: lw + 'px', background: FIELD_COLORS[k] });
  fieldLegend.appendChild(sw);
  addLabel(fieldLegend, name, fieldLabelX[k], 5);
});

const errLegend = addLegend(78, 389, 494, 45);
const errCol = [18.7, 186, 354];
const errLabelX = [41, 209.3, 377.7];
const errRowY = [10.7, 31.7];
const errLabelY = [4, 24.5];
seriesNames.forEach((name, k) => {
  const c = Math.floor(k / 2), r = k % 2;
  const s = SERIES_STYLE[k];
  const img = markerImage(s.shape, s.color, s.lw, s.lh);
  img.className = 'swatch';
  img.style.position = 'absolute';
  img.style.left = (errCol[c] - img.width / 2) + 'px';
  img.style.top = (errRowY[r] - img.height / 2) + 'px';
  errLegend.appendChild(img);
  addLabel(errLegend, name, errLabelX[c], errLabelY[r]);
});
</script>
</body>
</html>
